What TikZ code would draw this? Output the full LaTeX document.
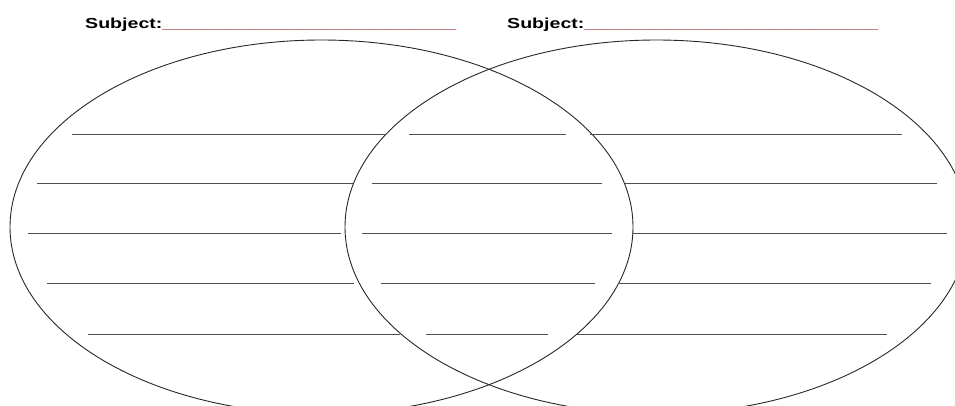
\documentclass[tikz,border=0pt]{standalone}
\usepackage{fontspec}
\setmainfont{Liberation Sans}
\definecolor{ink}{RGB}{40,40,40}
\definecolor{rule}{RGB}{80,80,80}
\definecolor{uline}{RGB}{140,30,30}
\tikzset{
  venn/.style={draw=ink, line width=0.9pt},
  writeline/.style={draw=rule, line width=1pt},
  subj/.style={anchor=base west, inner sep=0pt, font=\bfseries\fontsize{14.5}{16}\selectfont}
}
\newcommand{\subjline}{\scalebox{1.35}[1]{Subject:\textcolor{uline}{\_\_\_\_\_\_\_\_\_\_\_\_\_\_\_\_\_\_\_\_\_\_\_\_\_\_\_}}}
\begin{document}
\begin{tikzpicture}[x=1pt,y=-1pt]
\useasboundingbox (0,0) rectangle (955,405);
\fill[white] (0,0) rectangle (955,405);
\node[subj] (s1) at (85,28.3) {\subjline};
\node[subj] (s2) at (507,28.3) {\subjline};
\begin{scope}
\clip (0,0) rectangle (955,405);
\draw[venn] (321.5,227) ellipse [x radius=311.5, y radius=187];
\draw[venn] (656.5,227) ellipse [x radius=311.5, y radius=187];
\end{scope}
% row 1
\draw[writeline] (72,134) -- (385,134);
\draw[writeline] (409,134) -- (566,134);
\draw[writeline] (590,134) -- (902,134);
% row 2
\draw[writeline] (37,183) -- (353,183);
\draw[writeline] (372,183) -- (602,183);
\draw[writeline] (625,183) -- (937,183);
% row 3
\draw[writeline] (28,233) -- (341,233);
\draw[writeline] (362,233) -- (612,233);
\draw[writeline] (632,233) -- (947,233);
% row 4
\draw[writeline] (47,283) -- (354,283);
\draw[writeline] (381,283) -- (595,283);
\draw[writeline] (618,283) -- (931,283);
% row 5
\draw[writeline] (88,334) -- (400,334);
\draw[writeline] (426,334) -- (548,334);
\draw[writeline] (577,334) -- (887,334);
\end{tikzpicture}
\end{document}
